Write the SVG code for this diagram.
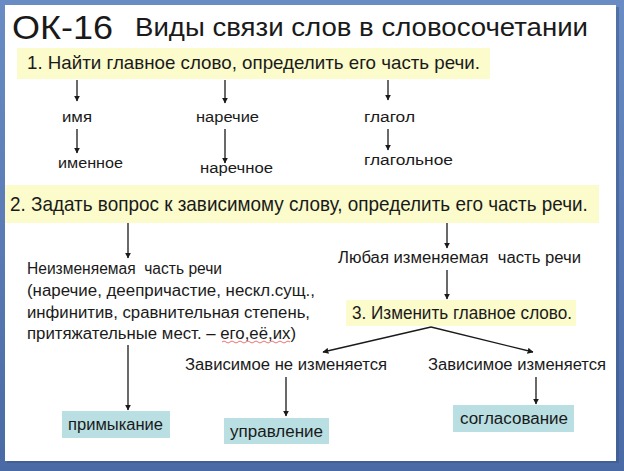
<svg xmlns="http://www.w3.org/2000/svg" width="624" height="471" viewBox="0 0 624 471">
<defs>
<marker id="ah" viewBox="0 0 10 10" refX="9" refY="5" markerWidth="6" markerHeight="6" markerUnits="userSpaceOnUse" orient="auto">
<path d="M0,0 L10,5 L0,10 z" fill="#1a1a1a"/>
</marker>
<linearGradient id="bg" x1="0" y1="0" x2="0" y2="1">
<stop offset="0" stop-color="#6a8cc4"/>
<stop offset="1" stop-color="#4a6aa6"/>
</linearGradient>
</defs>
<style>
text{font-family:"Liberation Sans",Arial,sans-serif;fill:#1a1a1a}
.t{font-size:15.5px}
.s{font-size:16px}
.yl{fill:#fbfbcb}
.tl{fill:#b9dfe2}
.c{stroke:#1a1a1a;stroke-width:1.3;fill:none;marker-end:url(#ah)}
</style>
<rect width="624" height="471" fill="url(#bg)"/>
<rect x="7" y="7" width="612" height="456" fill="#3a5586" opacity="0.5"/>
<rect x="5" y="5" width="611" height="456" fill="#ffffff"/>
<g id="title">
<text x="12" y="39" style="font-size:34px" textLength="101" lengthAdjust="spacingAndGlyphs">ОК-16</text>
<text x="135" y="36" style="font-size:25px" textLength="453" lengthAdjust="spacingAndGlyphs">Виды связи слов в словосочетании</text>
</g>
<g id="step1">
<rect class="yl" x="17" y="48" width="473" height="31"/>
<text x="27" y="69" style="font-size:19px" textLength="453" lengthAdjust="spacingAndGlyphs">1. Найти главное слово, определить его часть речи.</text>
</g>
<g id="imya"><text class="t" x="62" y="122" textLength="30" lengthAdjust="spacingAndGlyphs">имя</text></g>
<g id="narechie"><text class="t" x="196" y="122" textLength="63" lengthAdjust="spacingAndGlyphs">наречие</text></g>
<g id="glagol"><text class="t" x="364" y="122" textLength="51" lengthAdjust="spacingAndGlyphs">глагол</text></g>
<g id="imennoe"><text class="t" x="58" y="168" textLength="65" lengthAdjust="spacingAndGlyphs">именное</text></g>
<g id="narechnoe"><text class="t" x="200" y="173" textLength="73" lengthAdjust="spacingAndGlyphs">наречное</text></g>
<g id="glagolnoe"><text class="t" x="364" y="165" textLength="89" lengthAdjust="spacingAndGlyphs">глагольное</text></g>
<g id="step2">
<rect class="yl" x="5" y="185" width="594" height="38"/>
<text transform="translate(10,211) scale(0.9,1)" x="0" y="0" style="font-size:20.5px" textLength="642" lengthAdjust="spacingAndGlyphs">2. Задать вопрос к зависимому слову, определить его часть речи.</text>
</g>
<g id="neizm">
<text class="s" x="27" y="274" textLength="195" lengthAdjust="spacingAndGlyphs" xml:space="preserve">Неизменяемая  часть речи</text>
<text class="s" x="27" y="296" textLength="288" lengthAdjust="spacingAndGlyphs">(наречие, деепричастие, нескл.сущ.,</text>
<text class="s" x="27" y="318" textLength="283" lengthAdjust="spacingAndGlyphs">инфинитив, сравнительная степень,</text>
<text class="s" x="27" y="339" textLength="269" lengthAdjust="spacingAndGlyphs">притяжательные мест. – его,её,их)</text>
<path d="M222,342 q2,-2 4,0 t4,0 t4,0 t4,0 t4,0 t4,0 t4,0 t4,0 t4,0 t4,0 t4,0 t4,0 t4,0 t4,0 t4,0 t4,0 t4,0" stroke="#e05050" stroke-width="0.8" fill="none"/>
</g>
<g id="lyubaya">
<text class="s" x="338" y="263" textLength="243" lengthAdjust="spacingAndGlyphs" xml:space="preserve">Любая изменяемая  часть речи</text>
</g>
<g id="step3">
<rect class="yl" x="346" y="300" width="230" height="26"/>
<text x="352" y="319" style="font-size:17.5px" textLength="220" lengthAdjust="spacingAndGlyphs">3. Изменить главное слово.</text>
</g>
<g id="nezm"><text class="s" x="185" y="370" textLength="202" lengthAdjust="spacingAndGlyphs">Зависимое не изменяется</text></g>
<g id="izm"><text class="s" x="428" y="370" textLength="178" lengthAdjust="spacingAndGlyphs">Зависимое изменяется</text></g>
<g id="primykanie">
<rect class="tl" x="62" y="411" width="108" height="27"/>
<text class="s" x="68" y="430" textLength="95" lengthAdjust="spacingAndGlyphs">примыкание</text>
</g>
<g id="upravlenie">
<rect class="tl" x="224" y="418" width="105" height="26"/>
<text class="s" x="230" y="437" textLength="93" lengthAdjust="spacingAndGlyphs">управление</text>
</g>
<g id="soglasovanie">
<rect class="tl" x="453" y="405" width="121" height="27"/>
<text class="s" x="460" y="424" textLength="108" lengthAdjust="spacingAndGlyphs">согласование</text>
</g>
<g id="connectors">
<line class="c" x1="77" y1="80" x2="77" y2="101"/>
<line class="c" x1="225" y1="80" x2="225" y2="103"/>
<line class="c" x1="388" y1="80" x2="388" y2="100"/>
<line class="c" x1="77" y1="129" x2="77" y2="153"/>
<line class="c" x1="225" y1="129" x2="225" y2="163"/>
<line class="c" x1="388" y1="129" x2="388" y2="150"/>
<line class="c" x1="128" y1="223" x2="128" y2="258"/>
<line class="c" x1="447" y1="223" x2="447" y2="248"/>
<line class="c" x1="447" y1="270" x2="447" y2="299"/>
<line class="c" x1="431" y1="327" x2="323" y2="352"/>
<line class="c" x1="431" y1="327" x2="533" y2="352"/>
<line class="c" x1="128" y1="345" x2="128" y2="410"/>
<line class="c" x1="286" y1="377" x2="286" y2="416"/>
<line class="c" x1="536" y1="377" x2="536" y2="404"/>
</g>
</svg>
